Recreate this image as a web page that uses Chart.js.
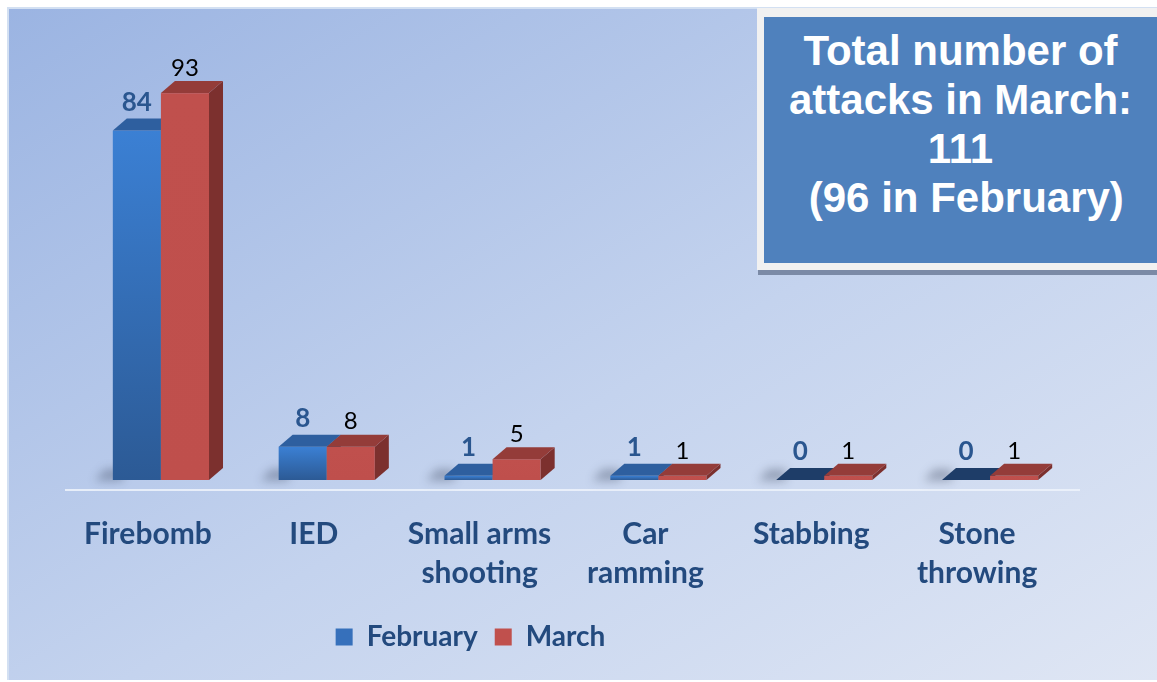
<!DOCTYPE html>
<html>
<head>
<meta charset="utf-8">
<script src="https://cdn.jsdelivr.net/npm/chart.js@4.4.1/dist/chart.umd.min.js"></script>
<style>
  html, body { margin: 0; padding: 0; background: #fff; }
  #wrap { position: relative; width: 1157px; height: 682px; overflow: hidden; }
  #bg {
    position: absolute; left: 7px; top: 7px; right: 0; bottom: 2px;
    background: linear-gradient(to bottom right, #9bb4e2, #c4d3ee 55%, #dfe6f4);
    border-left: 2px solid #d3e0f2; border-top: 2px solid #d3e0f2;
  }
  #chart { position: absolute; left: 0; top: 0; }
  #note-shadow { position: absolute; left: 758px; top: 269px; width: 420px; height: 6px; background: #7b8aa6; }
  #note { position: absolute; left: 757px; top: 8px; width: 420px; height: 262px; background: #f1f1f1; }
  #note-inner {
    position: absolute; left: 7px; top: 9px; width: 393px; height: 246px;
    background: #4f81bd; color: #fff; text-align: center;
    font: bold 42px "Liberation Sans", Arial, sans-serif; line-height: 49px;
    padding-top: 9px; box-sizing: border-box;
  }
</style>
</head>
<body>
<div id="wrap">
  <div id="bg"></div>
  <canvas id="chart" width="1157" height="682"></canvas>
  <div id="note-shadow"></div>
  <div id="note"><div id="note-inner">Total number of<br>attacks in March:<br>111<br>&nbsp;(96 in February)</div></div>
</div>
<script>
// ------------------------------------------------------------
//  Attacks by type · February vs March
// ------------------------------------------------------------

const categories = ['Firebomb', 'IED', ['Small arms', 'shooting'], ['Car', 'ramming'], 'Stabbing', ['Stone', 'throwing']];
const seriesNames = ['February', 'March'];
const february = [84, 8, 1, 1, 0, 0];
const march    = [93, 8, 5, 1, 1, 1];

const TEXT_BLUE = '#234a7e';
const DX = 14, DY = 12;   // depth of the 3D faces

function poly(ctx, pts, fill) {
  ctx.beginPath();
  ctx.moveTo(pts[0][0], pts[0][1]);
  for (let i = 1; i < pts.length; i++) ctx.lineTo(pts[i][0], pts[i][1]);
  ctx.closePath();
  ctx.fillStyle = fill;
  ctx.fill();
}

function drawBox(ctx, bar, colors, isZero) {
  const x0 = bar.x - bar.width / 2, x1 = bar.x + bar.width / 2;
  const top = bar.y, base = bar.base;
  if (base - top > 0.5) {
    const g = ctx.createLinearGradient(0, top, 0, base);
    g.addColorStop(0, colors.frontTop);
    g.addColorStop(1, colors.frontBottom);
    ctx.fillStyle = g;
    ctx.fillRect(x0, top, x1 - x0, base - top);
    poly(ctx, [[x1, top], [x1 + DX, top - DY], [x1 + DX, base - DY], [x1, base]], colors.side);
  }
  poly(ctx, [[x0, top], [x0 + DX, top - DY], [x1 + DX, top - DY], [x1, top]], isZero ? colors.zero : colors.top);
}

const palette = [
  { frontTop: '#3b80d4', frontBottom: '#2c5a95', side: '#24497a', top: '#2e5f9f', zero: '#1e3d68' },
  { frontTop: '#c0504d', frontBottom: '#bf4f4c', side: '#7c302e', top: '#943c39', zero: '#943c39' }
];

const bars3d = {
  id: 'bars3d',
  afterLayout(chart) {
    // legend sits left of centre in the original
    chart.legend.left -= 105;
    chart.legend.right -= 105;
  },
  beforeDatasetsDraw(chart) {
    const { ctx, chartArea, scales: { y } } = chart;
    const base = y.getPixelForValue(0);
    ctx.save();
    ctx.strokeStyle = 'rgba(236,242,251,0.9)';
    ctx.lineWidth = 2;
    ctx.beginPath();
    ctx.moveTo(chartArea.left - 13, base + 10);
    ctx.lineTo(chartArea.right + 7, base + 10);
    ctx.stroke();

    // soft floor shadows on the left of every pair
    const meta = chart.getDatasetMeta(0);
    ctx.filter = 'blur(5px)';
    meta.data.forEach(bar => {
      const x0 = bar.x - bar.width / 2;
      poly(ctx, [[x0 - 8, base - 11], [x0 + 10, base - 11], [x0 + 10, base + 1], [x0 - 18, base + 1]], 'rgba(25,35,60,0.3)');
    });
    ctx.restore();
  },
  beforeDatasetDraw() { return false; },
  afterDatasetsDraw(chart) {
    const { ctx } = chart;
    const metas = [chart.getDatasetMeta(0), chart.getDatasetMeta(1)];
    ctx.save();
    for (let i = 0; i < categories.length; i++) {
      metas.forEach((meta, d) => {
        const value = chart.data.datasets[d].data[i];
        drawBox(ctx, meta.data[i], palette[d], value === 0);
      });
    }
    // value labels
    ctx.textAlign = 'center';
    ctx.textBaseline = 'middle';
    for (let i = 0; i < categories.length; i++) {
      const b = metas[0].data[i], r = metas[1].data[i];
      ctx.font = 'bold 26px Lato';
      ctx.fillStyle = '#2a568f';
      ctx.fillText(String(february[i]), b.x, b.y - 28);
      ctx.font = '24px Lato';
      ctx.fillStyle = '#000';
      ctx.fillText(String(march[i]), r.x, r.y - 25);
    }
    ctx.restore();
  }
};

new Chart(document.getElementById('chart'), {
  type: 'bar',
  data: {
    labels: categories,
    datasets: [
      { label: seriesNames[0], data: february, backgroundColor: '#3670bb' },
      { label: seriesNames[1], data: march, backgroundColor: '#c0504d' }
    ]
  },
  options: {
    responsive: false,
    animation: false,
    layout: { padding: { left: 78, right: 84, top: 64, bottom: 21 } },
    datasets: { bar: { barPercentage: 1, categoryPercentage: 0.58 } },
    scales: {
      x: {
        grid: { display: false },
        border: { display: false },
        ticks: {
          color: TEXT_BLUE,
          font: { family: 'Lato', weight: 'bold', size: 30, lineHeight: 1.3 },
          padding: 27,
          labelOffset: -13,
          autoSkip: false,
          maxRotation: 0
        },
        afterFit: (scale) => { scale.height = 126; }
      },
      y: { display: false, min: 0, max: 100 }
    },
    plugins: {
      legend: {
        position: 'bottom',
        labels: {
          boxWidth: 17, boxHeight: 17, padding: 17,
          color: TEXT_BLUE,
          font: { family: 'Lato', weight: 'bold', size: 28 }
        }
      },
      tooltip: { enabled: false }
    }
  },
  plugins: [bars3d]
});
</script>
</body>
</html>
